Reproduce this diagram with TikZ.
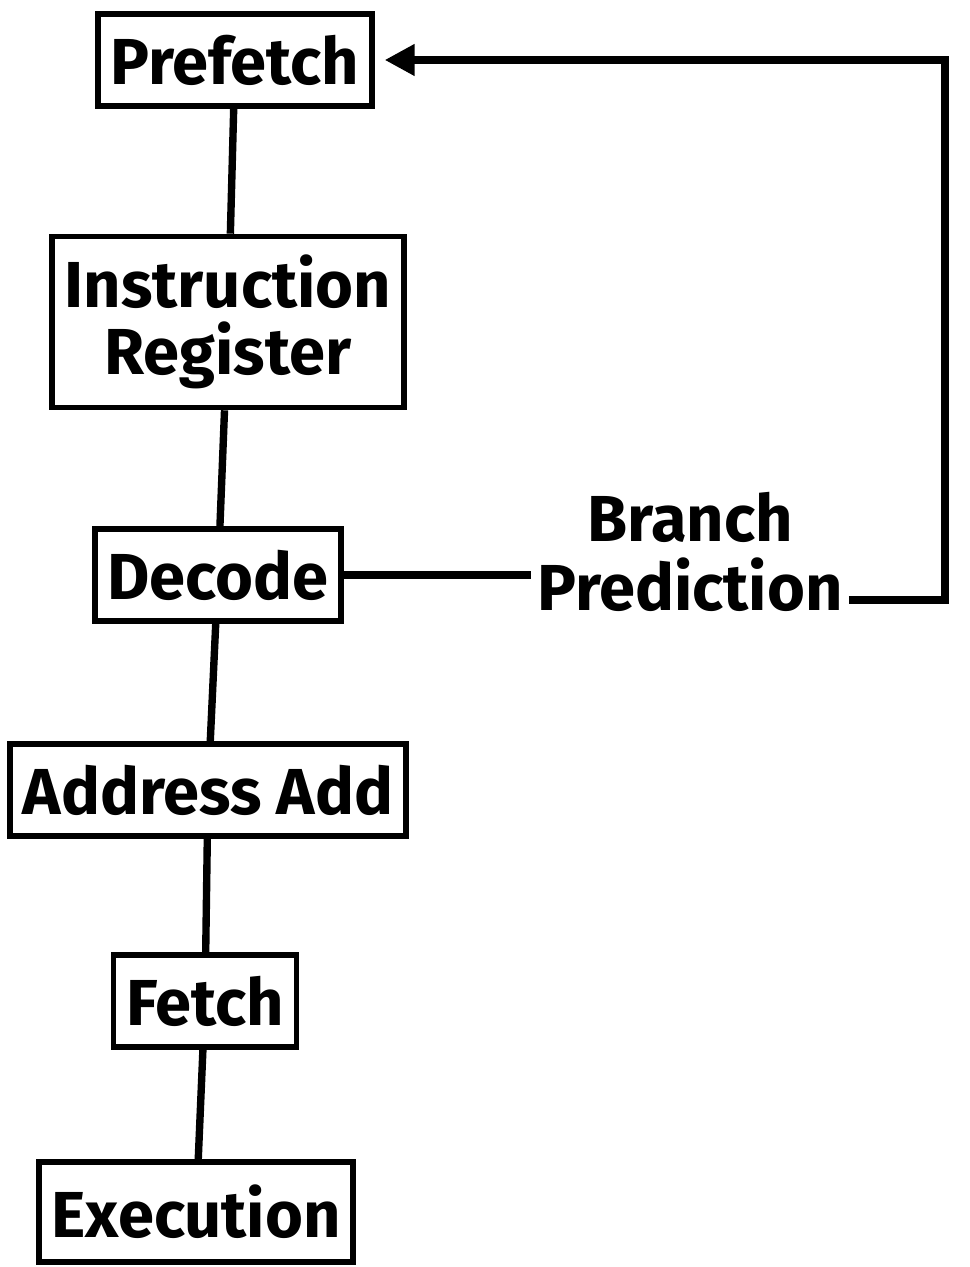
\documentclass[tikz,border=0pt]{standalone}
\usepackage{fontspec}
\setmainfont{Fira Sans}
\usetikzlibrary{arrows.meta,positioning}
\tikzset{
  stage/.style={draw, line width=3.2pt, font=\bfseries\fontsize{37}{38}\selectfont,
    inner xsep=0.25cm, minimum height=1.85cm, align=center},
  link/.style={line width=4.2pt},
}
\begin{document}
\begin{tikzpicture}
\useasboundingbox (0,0) rectangle (19.4,25.34);
% pipeline stages
\node[stage] (prefetch) at (4.70,24.14) {Prefetch};
\node[stage, minimum height=3.42cm] (instreg) at (4.56,18.90) {Instruction\\Register};
\node[stage] (decode) at (4.36,13.84) {Decode};
\node[stage] (addradd) at (4.16,9.54) {Address Add};
\node[stage] (fetch) at (4.10,5.32) {Fetch};
\node[stage, minimum height=2cm] (exec) at (3.92,1.10) {Execution};
% branch prediction loop
\node[font=\bfseries\fontsize{37}{39}\selectfont, align=center] (branch) at (13.8,14.3) {Branch\\Prediction};
\coordinate (corner) at (18.9,13.34);
\draw[link] (prefetch) -- (instreg);
\draw[link] (instreg) -- (decode);
\draw[link] (decode) -- (addradd);
\draw[link] (addradd) -- (fetch);
\draw[link] (fetch) -- (exec);
\draw[link] (decode.east) -- (decode.east -| branch.west);
\draw[link, -{Triangle[length=0.6cm,width=0.6cm]}, shorten >=0.2cm] (branch.east |- corner) -- (corner) |- (prefetch.east);
\end{tikzpicture}
\end{document}
